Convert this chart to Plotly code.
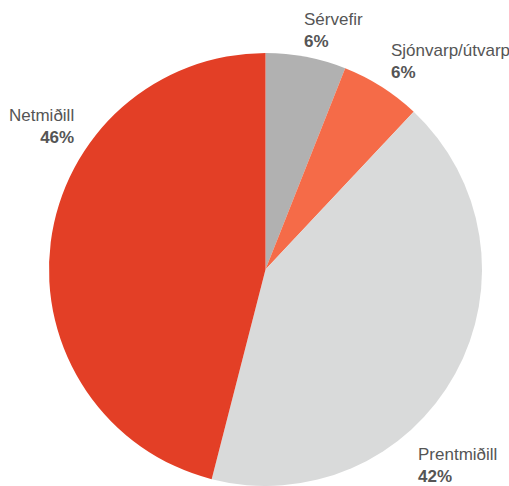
import plotly.graph_objects as go

labels = ["Sérvefir", "Sjónvarp/útvarp", "Prentmiðill", "Netmiðill"]
values = [6, 6, 42, 46]
colors = ["#b1b1b1", "#f56b48", "#d9dada", "#e33f26"]

fig = go.Figure(go.Pie(
    labels=labels,
    values=values,
    sort=False,
    direction="clockwise",
    rotation=0,
    textinfo="none",
    hoverinfo="label+percent",
    marker=dict(colors=colors, line=dict(width=0)),
    domain=dict(x=[48/509, 483/509], y=[0, 1 - 53/486]),
    showlegend=False,
))

W, H = 509, 486
# label positions (pixels) : (x, y_center, xanchor)
label_pos = [(302, 31, "left"), (389, 61, "left"), (416, 465, "left"), (76, 127, "right")]
font = dict(family="Liberation Sans, Arial, sans-serif", size=17, color="#555555")
for lab, v, (px, py, anc) in zip(labels, values, label_pos):
    fig.add_annotation(
        x=px / W, y=1 - py / H, xref="paper", yref="paper",
        text=f"{lab}<br><b>{v}%</b>", showarrow=False,
        xanchor=anc, yanchor="middle", align=anc, font=font,
    )

fig.update_layout(
    width=W, height=H,
    margin=dict(l=0, r=0, t=0, b=0),
    paper_bgcolor="white", plot_bgcolor="white",
)
fig.write_html("out.html", config={"displayModeBar": False},
               post_script="document.body.style.margin='0';")
